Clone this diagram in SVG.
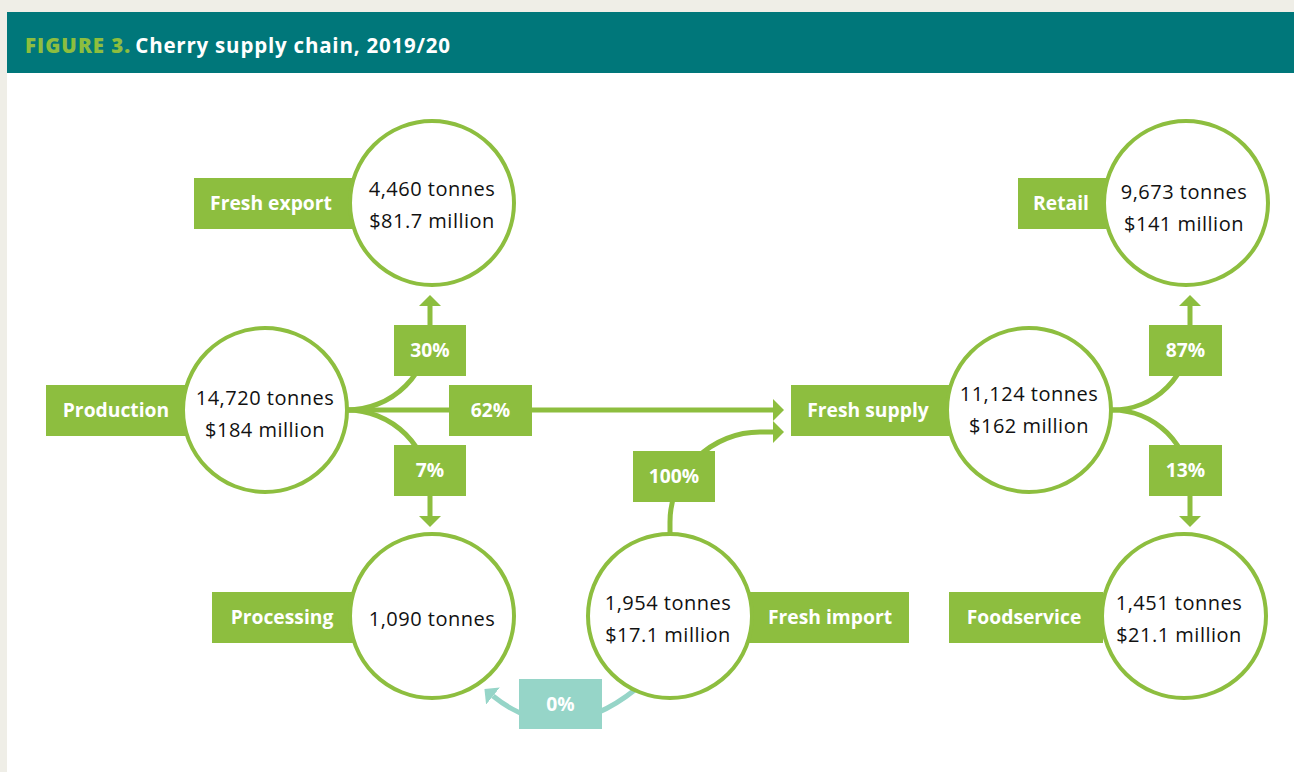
<svg xmlns="http://www.w3.org/2000/svg" width="1294" height="772" viewBox="0 0 1294 772">
<defs>
<style>
.node circle{fill:#fff;stroke:#8dbe3f;stroke-width:4}
.lbl{fill:#8dbe3f}
.lt{font-family:"Open Sans","Liberation Sans",sans-serif;font-weight:700;font-size:19.3px;fill:#fff;text-anchor:middle}
.ct{font-family:"Open Sans","Liberation Sans",sans-serif;font-weight:400;font-size:20px;fill:#111;text-anchor:middle;letter-spacing:0.5px}
.conn path{fill:none;stroke:#8dbe3f;stroke-width:5}
.conn path.teal{stroke:#96d5c8}
.pct rect{fill:#8dbe3f}
.pct rect.teal{fill:#96d5c8}
</style>
<marker id="ag" viewBox="0 0 11 22" refX="0" refY="11" markerWidth="11" markerHeight="22" markerUnits="userSpaceOnUse" orient="auto"><path d="M0,0 L11,11 L0,22 Z" fill="#8dbe3f"/></marker>
<marker id="at" viewBox="0 0 11 22" refX="0" refY="11" markerWidth="11" markerHeight="22" markerUnits="userSpaceOnUse" orient="auto"><path d="M0,0 L11,11 L0,22 Z" fill="#96d5c8"/></marker>
</defs>
<rect x="0" y="0" width="1294" height="772" fill="#efeee7"/>
<rect x="7" y="73" width="1287" height="699" fill="#fff"/>
<rect x="7" y="12" width="1287" height="61" fill="#00777a"/>
<text x="25" y="53" font-family="'Open Sans','Liberation Sans',sans-serif" font-weight="700" font-size="20.5"><tspan fill="#8dbe3f" font-weight="800" letter-spacing="1">FIGURE 3.</tspan><tspan fill="#fff" dx="4" letter-spacing="0.8">Cherry supply chain, 2019/20</tspan></text>

<g class="conn">
<path d="M347,410 A83,83 0 0 0 430,327 L430,306" marker-end="url(#ag)"/>
<path d="M347,410 A83,83 0 0 1 430,493 L430,516" marker-end="url(#ag)"/>
<path d="M347,410 L773,410" marker-end="url(#ag)"/>
<path d="M670,534 L670,522 A90,90 0 0 1 760,432 L773,432" marker-end="url(#ag)"/>
<path d="M1112,410 A78,78 0 0 0 1190,332 L1190,306" marker-end="url(#ag)"/>
<path d="M1112,410 A78,78 0 0 1 1190,488 L1190,516" marker-end="url(#ag)"/>
<path class="teal" d="M636,689 Q560,750 493,696" marker-end="url(#at)"/>
</g>

<g class="pct">
<g id="p30"><rect x="394" y="325" width="72" height="51"/><text class="lt" x="430" y="357">30%</text></g>
<g id="p62"><rect x="449" y="385" width="83" height="51"/><text class="lt" x="490.5" y="417">62%</text></g>
<g id="p7"><rect x="394" y="445" width="72" height="51"/><text class="lt" x="430" y="477">7%</text></g>
<g id="p100"><rect x="633" y="451" width="82" height="51"/><text class="lt" x="674" y="483">100%</text></g>
<g id="p87"><rect x="1149" y="325" width="73" height="51"/><text class="lt" x="1185.5" y="357">87%</text></g>
<g id="p13"><rect x="1149" y="445" width="73" height="51"/><text class="lt" x="1185.5" y="477">13%</text></g>
<g id="p0"><rect class="teal" x="519" y="679" width="83" height="50"/><text class="lt" x="560.5" y="711">0%</text></g>
</g>

<g id="production" class="node">
<rect class="lbl" x="46" y="385" width="140" height="51"/>
<text class="lt" x="116" y="417">Production</text>
<circle cx="265" cy="410" r="82"/>
<text class="ct" x="265" y="405">14,720 tonnes</text>
<text class="ct" x="265" y="437">$184 million</text>
</g>

<g id="fresh-export" class="node">
<rect class="lbl" x="194" y="178" width="160" height="51"/>
<text class="lt" x="271" y="210">Fresh export</text>
<circle cx="432" cy="203" r="82"/>
<text class="ct" x="432" y="196">4,460 tonnes</text>
<text class="ct" x="432" y="228">$81.7 million</text>
</g>

<g id="processing" class="node">
<rect class="lbl" x="212" y="592" width="142" height="51"/>
<text class="lt" x="282" y="624">Processing</text>
<circle cx="432" cy="616" r="82"/>
<text class="ct" x="432" y="626">1,090 tonnes</text>
</g>

<g id="fresh-import" class="node">
<rect class="lbl" x="748" y="592" width="161" height="51"/>
<text class="lt" x="830" y="624">Fresh import</text>
<circle cx="670" cy="616" r="82"/>
<text class="ct" x="668" y="610">1,954 tonnes</text>
<text class="ct" x="668" y="642">$17.1 million</text>
</g>

<g id="fresh-supply" class="node">
<rect class="lbl" x="791" y="385" width="158" height="51"/>
<text class="lt" x="868" y="417">Fresh supply</text>
<circle cx="1029" cy="410" r="82"/>
<text class="ct" x="1029" y="401">11,124 tonnes</text>
<text class="ct" x="1029" y="433">$162 million</text>
</g>

<g id="retail" class="node">
<rect class="lbl" x="1018" y="178" width="89" height="51"/>
<text class="lt" x="1061" y="210">Retail</text>
<circle cx="1186" cy="203" r="82"/>
<text class="ct" x="1184" y="199">9,673 tonnes</text>
<text class="ct" x="1184" y="231">$141 million</text>
</g>

<g id="foodservice" class="node">
<rect class="lbl" x="949" y="592" width="154" height="51"/>
<text class="lt" x="1024" y="624">Foodservice</text>
<circle cx="1184" cy="616" r="82"/>
<text class="ct" x="1179" y="610">1,451 tonnes</text>
<text class="ct" x="1179" y="642">$21.1 million</text>
</g>
</svg>
